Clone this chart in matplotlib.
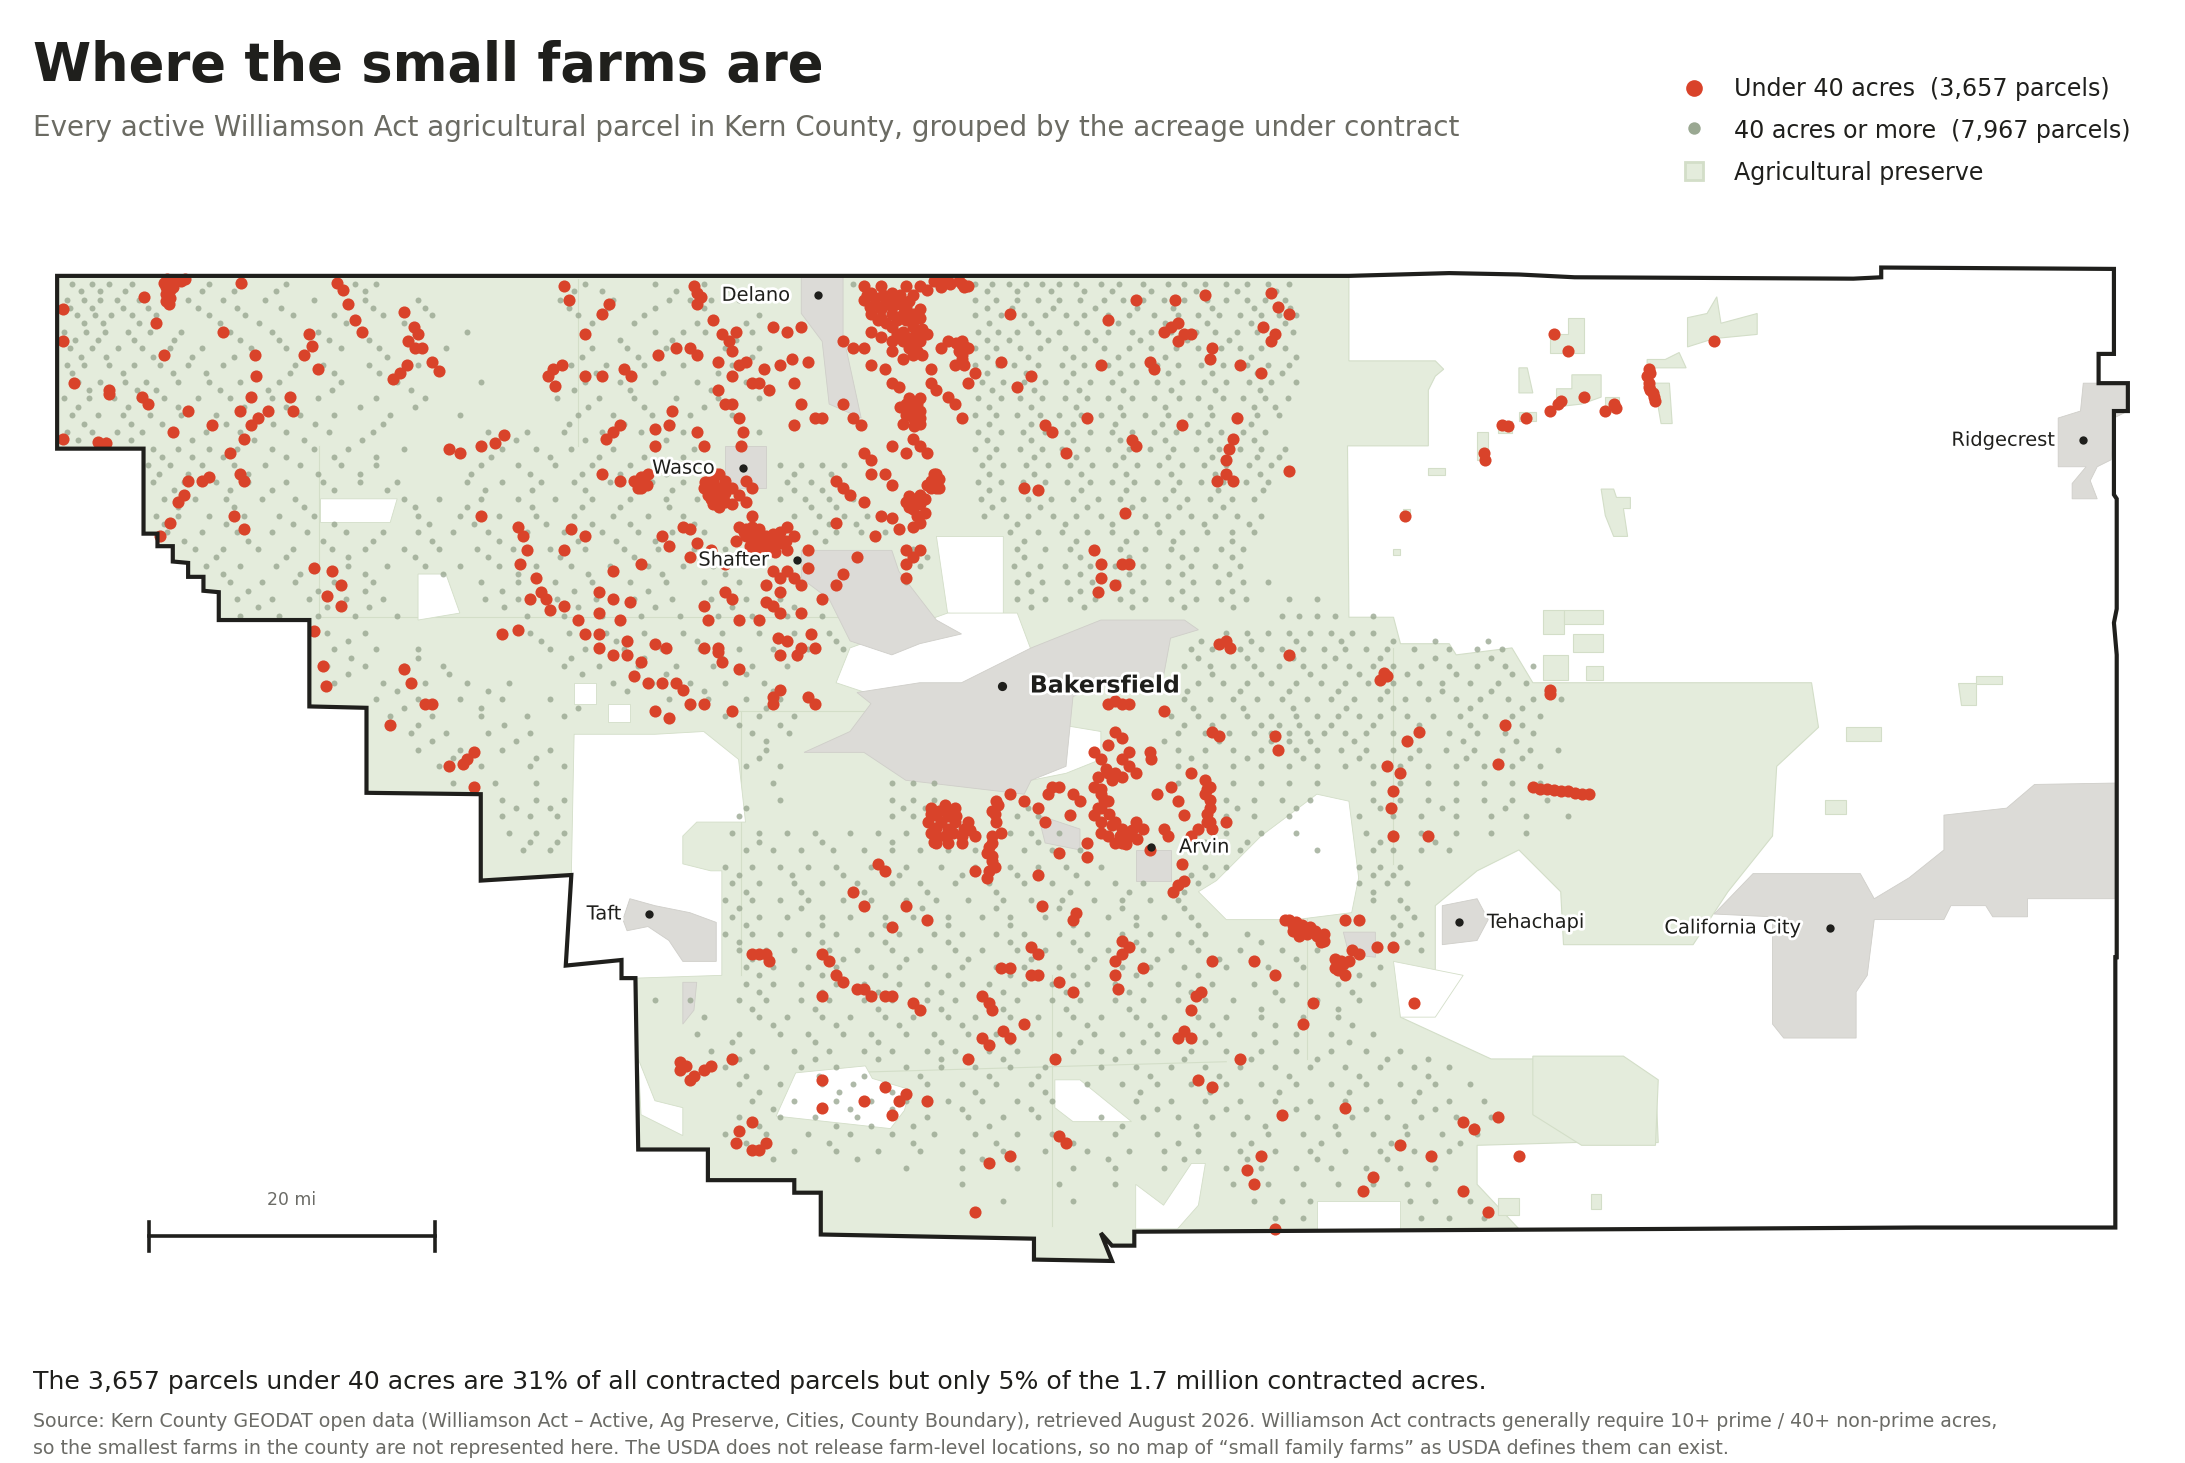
import numpy as np
import matplotlib
matplotlib.use('Agg')
import matplotlib.pyplot as plt
import matplotlib.patheffects as pe
from matplotlib.patches import Polygon

# ----------------------------------------------------------------
# Map data (x, y in map units)
# ----------------------------------------------------------------
county = [(41,198),(290,198),(580,198),(968,198),(1040,196),(1090,197),(1130,199),(1330,200),(1350,199),(1350,192),
  (1517,193),(1517,254),(1506,254),(1506,275),(1527,275),(1527,295),(1517,295),(1517,355),(1519,358),(1519,437),
  (1517,447),(1519,470),(1519,687),(1518,687),(1518,881),(1500,881),(1375,881),(1200,882),(814,884),(814,894),
  (798,894),(790,885),(798,905),(742,904),(742,889),(589,886),(589,856),(570,856),(570,847),(508,847),(508,825),
  (458,825),(456,702),(446,702),(446,689),(406,693),(410,628),(345,632),(345,570),(263,569),(263,508),(222,507),
  (222,445),(157,445),(157,425),(146,424),(146,414),(135,414),(135,404),(124,403),(124,392),(113,392),(113,383),
  (103,383),(103,322),(41,322)]

preserve_main = [(41,198),(968,198),(968,259),(1030,259),(1036,265),(1030,270),(1025,280),(1025,320),(967,320),
  (968,443),(1000,443),(1005,462),(1040,462),(1045,470),(1085,465),(1100,490),(1300,490),(1305,522),(1275,550),
  (1272,600),(1240,640),(1215,678),(1122,678),(1120,640),(1090,610),(1060,625),(1030,650),(1030,700),(1005,715),
  (1005,730),(1070,760),(1165,760),(1170,770),(1188,775),(1190,820),(1130,820),(1060,822),(1060,850),(1090,882),
  (814,884),(814,894),(798,894),(790,885),(798,905),(742,904),(742,889),(589,886),(589,856),(570,856),(570,847),
  (508,847),(508,825),(458,825),(456,702),(446,702),(446,689),(406,693),(410,628),(345,632),(345,570),(263,569),
  (263,508),(222,507),(222,445),(157,445),(157,425),(146,424),(146,414),(135,414),(135,404),(124,403),(124,392),
  (113,392),(113,383),(103,383),(103,322),(41,322)]

preserve_bits = [
  [(1112,240),(1125,240),(1125,228),(1137,228),(1137,253),(1112,253)],
  [(1211,228),(1225,225),(1232,213),(1235,232),(1261,225),(1261,240),(1230,243),(1211,249)],
  [(1090,264),(1096,264),(1100,282),(1090,282)],
  [(1128,269),(1149,269),(1149,285),(1135,290),(1117,292),(1117,279),(1128,279)],
  [(1182,258),(1195,258),(1205,253),(1210,264),(1182,264)],
  [(1187,275),(1198,275),(1200,304),(1192,304)],
  [(1152,285),(1162,285),(1162,296),(1152,296)],
  [(1060,310),(1068,310),(1068,330),(1060,330)],
  [(1075,302),(1085,302),(1085,311),(1075,311)],
  [(1090,296),(1102,296),(1102,302),(1090,302)],
  [(1149,351),(1158,351),(1160,357),(1170,357),(1170,365),(1165,365),(1168,385),(1158,385),(1152,370)],
  [(1025,336),(1037,336),(1037,341),(1025,341)],
  [(1007,365),(1012,365),(1012,372),(1007,372)],
  [(1000,394),(1005,394),(1005,398),(1000,398)],
  [(1107,438),(1122,438),(1122,455),(1107,455)],
  [(1122,438),(1150,438),(1150,448),(1122,448)],
  [(1129,455),(1150,455),(1150,468),(1129,468)],
  [(1107,470),(1125,470),(1125,488),(1107,488)],
  [(1138,478),(1150,478),(1150,488),(1138,488)],
  [(1405,490),(1418,490),(1418,485),(1437,485),(1437,491),(1418,491),(1418,506),(1407,506)],
  [(1325,522),(1350,522),(1350,532),(1325,532)],
  [(1310,574),(1325,574),(1325,584),(1310,584)],
  [(1100,758),(1165,758),(1190,775),(1188,822),(1135,822),(1100,800)],
  [(1142,857),(1149,857),(1149,868),(1142,868)],
  [(1075,860),(1090,860),(1090,872),(1075,872)],
]

preserve_gaps = [
  [(412,527),(470,527),(505,525),(530,545),(535,590),(500,590),(490,600),(490,620),(510,625),(518,625),
   (518,700),(456,702),(446,702),(446,689),(406,693),(410,628)],
  [(412,490),(428,490),(428,505),(412,505)],
  [(436,505),(452,505),(452,518),(436,518)],
  [(230,358),(285,358),(280,375),(230,375)],
  [(300,412),(320,412),(330,440),(300,445)],
  [(672,385),(720,385),(720,445),(680,440)],
  [(610,465),(680,440),(730,440),(760,520),(790,525),(790,545),(765,555),(740,560),(630,500),(600,490)],
  [(873,632),(905,600),(945,570),(968,575),(975,630),(970,655),(930,660),(880,660),(860,640)],
  [(757,775),(775,775),(812,805),(770,805),(757,795)],
  [(815,850),(835,865),(855,835),(865,835),(860,865),(845,882),(815,882)],
  [(945,882),(945,862),(1005,862),(1005,882)],
  [(571,770),(621,765),(626,774),(653,782),(649,797),(639,810),(557,801)],
  [(458,760),(460,800),(490,815),(490,795),(470,790)],
  [(1000,690),(1050,700),(1030,730),(1005,730)],
]

preserve_lines = [[(230,443),(680,443)],[(229,320),(229,443)],[(530,510),(730,510)],[(532,510),(532,700)],
  [(600,770),(880,762)],[(755,700),(755,880)],[(1000,465),(1000,620)],[(938,640),(938,760)],[(415,200),(415,320)]]

city_shapes = [
  [(577,540),(610,525),(625,505),(615,497),(660,490),(690,490),(710,480),(740,465),(790,445),(850,445),(860,452),
   (840,458),(835,485),(790,490),(770,500),(765,550),(740,560),(735,570),(650,560),(620,540)],
  [(575,395),(640,395),(645,410),(672,445),(690,455),(660,462),(640,470),(610,460),(595,430),(575,415)],
  [(575,198),(605,198),(605,240),(618,300),(595,290),(590,245),(575,225)],
  [(520,320),(550,320),(550,350),(520,350)],
  [(1495,275),(1527,275),(1527,295),(1517,300),(1515,330),(1505,335),(1500,345),(1505,358),(1487,358),(1487,347),
   (1497,335),(1477,335),(1477,300),(1493,295)],
  [(1258,627),(1335,627),(1345,645),(1370,630),(1395,610),(1395,585),(1440,580),(1460,563),(1518,562),(1518,645),
   (1455,645),(1455,658),(1430,658),(1425,650),(1400,650),(1395,660),(1345,660),(1340,700),(1332,712),(1332,745),
   (1280,745),(1272,735),(1272,658),(1230,656)],
  [(1035,650),(1060,645),(1068,660),(1060,675),(1035,678)],
  [(447,660),(452,645),(470,650),(495,655),(514,662),(514,690),(490,690),(480,675),(465,665),(450,668)],
  [(815,610),(840,610),(840,632),(815,632)],
  [(745,585),(775,595),(775,610),(750,605)],
  [(490,705),(500,705),(498,725),(490,735)],
  [(964,669),(987,669),(987,687),(968,685)],
]

# rows of 40+ acre parcels: y, then the x positions on that row
big_rows = [
  (204,[52,66,78,95,150,175,205,255,270,420,470,505,612,700,712,724,736,748,760,772,790,803,820,838,850,865,880,895,910,925]),
  (215,[48,60,72,84,100,135,160,190,225,262,300,402,440,480,495,510,530,700,715,730,745,760,775,792,806,820,835,850,866,880,895,908,922]),
  (226,[55,68,80,95,112,150,176,210,240,275,310,415,430,462,545,700,718,735,750,765,778,795,810,828,845,860,875,890,905,918,930]),
  (238,[46,62,75,92,108,130,165,195,228,258,335,470,490,506,540,702,716,730,745,760,780,795,812,826,840,858,872,888,902,916,928]),
  (250,[50,66,85,102,122,145,180,205,245,272,320,425,450,478,520,545,700,715,732,746,764,778,792,810,826,844,860,876,890,905,922]),
  (262,[48,60,78,96,115,135,160,212,232,265,300,410,435,462,490,525,700,716,728,745,762,778,795,812,830,845,862,878,895,910,925]),
  (274,[56,72,90,105,128,150,172,200,245,285,345,420,445,470,500,535,705,720,735,750,765,782,798,815,830,848,864,880,896,912,930]),
  (286,[46,64,82,100,118,142,165,195,228,270,305,400,430,455,485,515,545,702,718,732,748,764,780,795,812,828,846,860,878,892,908,924]),
  (298,[52,70,88,108,130,155,185,215,240,280,330,415,440,468,495,525,700,715,730,746,760,776,790,806,822,838,854,870,888,902,918]),
  (310,[48,66,84,102,125,148,172,205,236,268,350,378,405,432,460,490,545,702,718,734,750,766,782,798,812,828,844,860,876,892,908]),
  (322,[110,128,150,170,195,225,250,290,360,385,410,440,470,498,700,715,732,748,762,780,795,810,825,842,858,875,890,905,922]),
  (334,[106,122,145,168,190,215,245,270,345,372,398,425,452,480,560,575,590,606,705,720,736,752,768,784,800,816,832,848,864,880,896,912]),
  (346,[110,132,155,178,205,232,258,285,335,360,388,412,438,468,490,565,582,600,702,718,734,750,766,782,798,814,830,846,862,878,894,910]),
  (358,[118,140,162,188,212,290,315,345,372,398,425,452,478,500,560,578,595,612,704,720,738,754,770,788,804,820,836,852,868,884,900]),
  (370,[112,128,150,175,200,225,300,330,358,385,412,440,465,490,570,588,606,622,706,722,738,756,772,790,806,822,838,855,872,888,905]),
  (382,[120,145,170,195,220,248,275,300,325,350,378,405,432,458,482,505,585,600,618,635,725,745,762,780,798,815,832,848,866,884,900]),
  (394,[140,160,185,210,238,262,290,315,342,368,395,420,448,472,498,520,655,730,750,768,786,804,822,840,858,876,892]),
  (406,[148,172,198,225,250,278,305,330,358,385,410,438,465,490,512,660,728,746,764,782,800,820,838,855,872,890]),
  (418,[165,188,212,240,268,345,372,398,425,452,478,505,530,650,730,748,766,784,802,820,838,856,874,892,910]),
  (430,[170,195,222,248,275,348,372,400,428,455,482,510,535,560,730,750,768,786,804,822,840,858,876,894,925,945]),
  (442,[172,200,228,255,285,378,405,432,460,488,515,540,565,590,920,932,945,958,985]),
  (454,[235,262,380,408,435,462,490,518,545,570,595,880,895,910,925,940,955,970,985]),
  (466,[240,270,300,395,420,448,475,502,530,555,580,605,855,870,890,905,920,935,950,965,980,995,1015,1040,1060,1078]),
  (478,[235,262,290,318,405,430,458,485,512,540,565,850,868,885,900,918,935,950,968,985,1000,1020,1040,1060,1080,1100]),
  (490,[240,275,305,335,365,440,468,495,520,548,860,878,895,912,930,948,965,982,1000,1018,1035,1055,1075,1095]),
  (502,[270,300,330,360,395,480,508,535,560,850,868,885,902,920,938,955,972,990,1008,1025,1045,1062,1082,1100,1120]),
  (514,[280,310,345,378,405,520,545,570,840,860,878,895,912,930,945,960,975,990,1010,1028,1048,1066,1085,1105]),
  (526,[295,320,350,380,540,566,845,865,882,900,912,925,938,950,965,980,1000,1020,1040,1060,1080,1100]),
  (538,[300,330,360,395,550,825,845,865,885,905,918,930,945,962,980,1000,1018,1038,1058,1078,1098,1118]),
  (550,[315,345,380,405,535,560,845,865,885,905,925,945,965,985,1005,1025,1045,1065,1085,1105]),
  (562,[325,355,385,555,640,655,670,845,865,885,905,925,945,985,1005,1025,1045,1065,1085,1105]),
  (574,[360,385,405,560,640,655,670,735,880,900,920,940,985,1005,1025,1045,1065,1085,1110]),
  (586,[360,380,400,530,640,655,670,730,745,880,900,925,975,1000,1020,1045,1070,1095,1125]),
  (598,[365,385,405,525,545,565,585,610,630,650,725,740,760,860,880,905,930,980,1000,1020,1045,1070,1095]),
  (610,[375,395,535,555,575,598,620,640,660,680,700,735,755,775,855,870,890,945,985,1000,1020,1040]),
  (622,[520,540,560,580,600,625,650,675,700,725,745,765,790,850,865,880,975,990,1005]),
  (634,[525,545,570,590,615,640,660,685,710,735,755,780,800,820,845,860,975,995,1010]),
  (646,[520,540,560,580,605,625,650,672,695,720,740,762,785,805,825,845,985,1005]),
  (658,[525,545,565,590,610,635,655,680,705,725,750,770,795,815,835,855,1000,1015]),
  (670,[520,540,560,580,600,625,645,670,690,715,735,760,780,805,825,845,865,895,1000,1020]),
  (682,[530,550,570,595,615,640,660,685,705,730,750,775,795,820,840,860,890,920,945,1020]),
  (694,[535,555,580,600,625,645,670,690,715,735,760,780,805,825,850,880,910,935,965,990]),
  (706,[535,555,575,600,620,645,665,690,710,735,755,780,800,825,845,870,900,930,960,985]),
  (718,[470,495,530,550,575,595,620,640,665,685,710,730,755,775,800,820,845,865,885,920,945,975]),
  (730,[505,545,565,590,610,635,655,680,700,725,745,770,790,815,835,860,880,905,935,960]),
  (742,[500,530,560,580,605,625,650,670,695,715,740,760,785,805,830,850,875,900,930,955,985]),
  (754,[510,540,570,595,620,640,665,685,710,730,770,790,810,830,855,880,905,930,955,980,1005]),
  (766,[520,550,575,600,650,675,700,725,750,790,815,840,865,890,915,940,965,990,1015,1040]),
  (778,[530,560,590,612,635,665,690,715,740,780,805,830,855,880,905,930,955,980,1005,1030,1055]),
  (790,[540,570,600,625,650,680,705,730,755,815,840,865,890,915,940,965,990,1015,1040,1065]),
  (802,[530,560,585,615,640,665,695,720,745,790,820,845,870,895,920,945,970,995,1020,1045,1070]),
  (814,[520,550,580,610,640,670,700,730,755,800,830,860,885,910,935,960,985,1010,1035,1060]),
  (826,[540,570,600,630,660,690,720,750,780,810,835,860,890,915,940,965,990,1015,1040]),
  (838,[650,690,730,770,800,835,880,905,930,955,980,1005,1030]),
  (850,[690,760,800,885,910,935,960,985,1010,1025]),
  (862,[720,770,900,920,940,1012,1030,1055]),
  (874,[915,935,1020,1040,1065]),
]

# second pass of the same parcels, in between the rows above
big_rows_b = [
  (209,[58,72,90,145,168,198,262,412,432,485,520,708,730,754,778,798,826,858,888,916]),
  (221,[50,66,88,106,142,170,202,268,305,408,436,470,505,708,726,756,786,816,842,870,900,926]),
  (232,[60,74,100,158,186,248,290,425,455,500,535,710,740,772,802,836,866,898,922]),
  (244,[54,70,96,125,172,200,236,265,445,482,528,708,724,752,786,818,852,882,912]),
  (256,[58,76,110,138,168,218,278,418,458,500,540,708,738,770,802,836,868,898,930]),
  (268,[52,88,124,148,208,240,272,428,476,515,708,736,770,804,838,870,902,920]),
  (280,[64,98,112,158,192,238,295,412,452,510,712,742,774,806,840,872,904]),
  (292,[56,92,128,175,205,258,298,422,462,505,710,740,772,804,836,868,900,915]),
  (304,[60,94,116,162,196,226,275,408,448,482,710,740,770,800,834,866,898]),
  (316,[56,76,94,138,182,218,260,370,420,478,708,740,770,804,836,868,900]),
  (328,[116,138,160,205,240,270,352,395,430,462,490,710,742,772,806,838,870,902,918]),
  (340,[114,135,178,228,258,338,380,418,445,478,570,596,710,742,776,808,840,872,904]),
  (352,[125,165,195,240,278,348,382,420,458,482,570,590,710,744,776,808,842,874,906]),
  (364,[128,168,218,298,335,382,418,445,480,582,600,712,746,780,812,846,878]),
  (376,[118,162,210,240,308,340,392,425,452,498,595,614,730,764,798,830,864,896]),
  (388,[132,178,232,268,310,358,415,442,470,592,735,772,808,842,884]),
  (400,[155,205,250,298,350,402,455,505,665,735,775,810,848,884]),
  (412,[160,215,262,318,372,422,475,520,738,775,810,848,882]),
  (424,[178,228,262,360,412,465,518,740,775,812,848,884]),
  (436,[185,235,265,362,415,470,525,570,740,778,812,850,885]),
  (460,[250,388,442,500,558,600,862,898,930,962,1000,1030,1068]),
  (472,[252,300,410,462,518,572,860,895,928,958,990,1030,1070]),
  (484,[250,322,418,478,535,870,905,940,975,1010,1045,1085]),
  (496,[285,350,450,505,555,852,890,925,960,995,1035,1070,1110]),
  (508,[290,345,415,495,550,856,892,928,966,1000,1055,1092]),
  (520,[300,362,530,560,850,870,905,918,932,955,985,1018,1055,1092]),
  (532,[310,370,550,835,875,912,925,940,972,1010,1050,1088]),
  (544,[325,385,545,855,895,935,975,1012,1052,1092]),
  (580,[370,395,535,648,664,738,888,930,990,1035,1080]),
  (604,[380,400,545,590,640,690,745,865,895,990,1030]),
  (628,[530,568,605,645,690,730,772,855,870,985,1000]),
  (640,[535,575,620,665,715,768,810,850,985]),
  (652,[530,575,620,662,715,760,805,850,1010]),
  (664,[535,590,635,680,725,770,815,860,1005]),
  (676,[530,590,635,680,725,770,815,855,905,1010]),
  (688,[540,605,650,695,740,785,830,875,930]),
  (700,[545,590,635,680,725,770,815,860,915,975]),
  (712,[545,590,630,675,720,765,810,855,915,970]),
  (724,[540,585,630,675,720,765,810,855,905,960]),
  (736,[555,600,645,690,735,780,825,870,915,970]),
  (748,[525,585,630,675,725,775,820,865,915,968]),
  (760,[530,585,630,675,720,800,850,898,945,995,1025]),
  (772,[535,588,620,660,710,745,825,875,925,975,1025]),
  (784,[545,602,640,700,750,818,868,918,968,1018]),
  (796,[555,610,640,690,740,830,880,930,980,1030]),
  (808,[545,600,625,655,710,805,858,908,958,1008,1058]),
  (820,[535,595,655,715,770,845,898,948,998,1048]),
  (832,[555,615,705,795,850,895,945,995,1028]),
]

small_parcels = [(120,200),(126,202),(133,200),(119,206),(124,206),(119,211),(119,216),(121,218),(173,203),(103,213),
  (242,203),(246,208),(250,218),(255,230),(260,238),(290,224),(297,235),(300,240),(293,245),(303,250),(292,262),
  (310,260),(315,266),(287,268),(282,272),(298,250),(112,232),(160,238),(183,255),(222,240),(224,248),(184,270),
  (180,285),(172,295),(218,255),(228,265),(185,300),(208,285),(210,295),(118,255),(76,318),(70,317),(45,222),(45,245),
  (45,315),(53,275),(78,280),(78,283),(102,285),(106,290),(124,310),(135,295),(152,305),(180,305),(175,315),(192,295),
  (135,345),(132,355),(128,360),(145,345),(172,340),(175,345),(168,370),(175,380),(122,375),(115,385),(165,325),(150,342),
  (238,410),(245,420),(225,408),(235,428),(245,435),(225,453),(232,478),(234,492),(290,480),(295,490),(305,505),(310,505),
  (280,520),(322,550),(332,548),(340,540),(335,545),(340,565),(360,455),(372,452),(388,425),(392,430),(380,430),(345,370),
  (322,322),(330,325),(345,320),(355,318),(362,312),(372,378),(375,385),(378,395),(373,405),(385,415),(395,438),
  (420,455),(430,465),(440,470),(450,470),(460,475),(455,485),(465,490),(475,490),(485,490),(490,495),(495,505),(505,505),
  (470,510),(480,515),(450,460),(470,462),(478,465),(505,465),(515,468),(530,480),(555,500),(525,510),(560,495),
  (405,435),(415,445),(430,455),(445,445),(430,425),(430,440),(440,430),(452,432),(410,380),(420,385),(405,395),(440,410),
  (460,405),(475,385),(480,392),(495,400),(455,345),(460,342),(460,350),(445,345),(432,340),(435,315),(440,310),(445,305),
  (405,205),(408,215),(432,225),(437,218),(420,240),(403,262),(397,265),(393,270),(398,277),(420,270),(432,270),(453,270),
  (448,265),(472,255),(485,250),(495,250),(500,255),(512,230),(518,240),(523,245),(525,252),(515,260),(525,270),(530,262),
  (535,260),(555,235),(565,238),(575,235),(580,260),(568,258),(560,262),(570,275),(575,290),(585,300),(590,300),(570,305),
  (498,205),(500,210),(503,213),(500,218),(528,238),(515,280),(540,275),(545,275),(552,280),(548,265),(520,290),
  (470,308),(480,305),(470,320),(465,340),(475,335),(482,295),(500,310),(505,320),(525,290),(530,300),(533,310),(532,320),
  (510,340),(512,345),(516,340),(510,350),(515,350),(520,345),(512,355),(516,358),(520,360),(512,362),(508,355),(505,350),
  (525,350),(530,355),(535,345),(540,350),(535,360),(525,362),(540,370),
  (530,378),(535,380),(540,378),(545,380),(535,385),(540,388),(545,388),(550,385),(528,388),(555,383),(560,382),(565,378),
  (555,392),(560,390),(548,395),(540,392),(570,385),(580,395),(565,395),(495,380),(500,390),(490,378),(510,395),(520,405),
  (555,410),(560,415),(565,410),(550,420),(560,425),(570,415),(575,420),(580,408),(555,435),(560,440),(550,432),(545,445),
  (558,458),(565,460),(575,465),(585,465),(572,470),(582,455),(560,470),(575,440),(590,430),(600,420),(605,412),
  (525,430),(520,425),(515,465),(518,475),(530,445),(508,445),(505,435),(580,500),(585,505),(555,505),
  (620,205),(625,210),(632,205),(640,210),(620,215),(628,218),(635,218),(642,215),(650,205),(655,212),(660,205),(650,220),
  (625,225),(632,228),(640,225),(648,225),(655,225),(660,222),(665,208),(670,202),(680,202),(690,204),(675,206),(695,205),
  (640,235),(648,238),(655,235),(660,238),(648,245),(655,248),(640,245),(632,242),(625,238),(660,245),(665,240),(655,255),
  (648,258),(640,252),(662,255),(668,265),(690,245),(690,255),(685,262),(692,262),(695,250),(680,245),(675,250),(635,265),
  (620,250),(612,250),(605,245),(625,262),(605,290),(612,300),(618,305),(640,275),(645,278),(650,290),(655,292),(660,295),
  (650,298),(655,300),(660,300),(668,275),(672,280),(680,285),(685,290),(690,300),(700,268),(695,275),(660,320),(665,325),
  (655,315),(650,325),(620,325),(625,330),(640,320),(635,340),(640,348),(655,358),(660,355),(650,360),(660,362),(655,365),
  (672,340),(668,345),(672,350),(665,348),(660,375),(655,378),(655,400),(660,395),(650,395),(645,380),(640,372),(625,340),
  (620,360),(610,355),(605,350),(600,345),(632,370),(628,385),(600,375),(615,400),(650,415),(650,405),
  (735,350),(745,352),(750,305),(755,310),(765,325),(740,270),(725,225),(730,278),(718,260),(780,300),(812,316),(815,320),
  (790,262),(850,240),(840,235),(845,232),(845,245),(855,240),(835,238),(825,260),(828,265),(815,215),(795,230),(848,305),
  (880,340),(885,345),(873,345),(880,330),(882,322),(885,315),(925,338),(843,215),(865,212),(912,210),(906,235),(912,245),
  (917,220),(925,225),(905,268),(915,240),(870,250),(868,258),(890,262),(888,300),(807,368),(785,395),(790,405),(805,405),
  (810,405),(790,415),(788,425),(800,420),(880,460),(883,465),(875,462),(925,470),(880,590),(990,488),(995,485),(993,483),
  (1065,325),(1066,330),(1078,305),(1082,306),(1095,300),(1112,295),(1118,290),(1120,288),(1137,285),(1158,290),(1160,293),
  (1152,295),(1183,265),(1182,270),(1183,275),(1184,280),(1187,285),(1188,288),(1115,240),(1230,245),(1125,252),
  (1100,565),(1105,566),(1110,566),(1115,567),(1120,568),(1125,568),(1130,569),(1135,570),(1140,570),(1112,495),(1112,498),
  (1008,370),(1018,525),(1005,555),(1000,568),(1080,520),(1075,548),(1010,532),(995,550),(998,580),(1000,600),(1025,600),
  (805,505),(795,505),(800,503),(810,505),(870,525),(875,528),(915,528),(917,538),(855,555),(835,510),(825,540),(826,545),
  (800,525),(805,530),(810,540),(805,545),(795,535),(790,545),(785,540),(810,550),(815,555),(805,558),(800,555),(795,555),
  (788,558),(785,565),(790,570),(795,575),(790,580),(785,585),(790,590),(800,590),(805,595),(795,600),(790,598),(805,605),
  (800,605),(810,600),(815,590),(820,595),(825,610),(830,570),(840,565),(845,575),(850,585),(865,560),(868,565),(865,570),
  (868,580),(866,590),(870,595),(860,595),(855,600),(835,595),(838,600),(848,620),(850,632),(845,635),(842,640),
  (668,580),(672,585),(678,578),(682,582),(685,580),(675,590),(680,595),(672,600),(668,598),(685,590),(692,595),(690,605),
  (695,590),(700,600),(680,605),(672,605),(715,575),(712,582),(715,590),(718,598),(712,605),(708,612),(712,618),(710,625),
  (708,630),(725,570),(735,575),(752,570),(755,565),(760,565),(750,590),(745,580),(770,570),(775,575),
  (768,585),(760,612),(780,605),(780,615),(745,628),(748,650),(772,655),(770,660),(740,680),(745,685),(718,695),
  (630,620),(635,625),(620,650),(640,665),(650,650),(665,660),(700,625),(612,640),(590,685),(595,690),(545,685),(550,685),
  (540,685),(552,690),(605,705),(615,710),(620,710),(625,715),(635,715),(640,715),(655,720),(660,725),(600,700),(590,715),
  (705,715),(710,720),(712,725),(720,740),(725,745),(735,735),(705,745),(710,750),(725,695),(740,700),(760,705),(770,712),
  (800,690),(805,685),(810,680),(805,675),(800,700),(802,710),(820,695),(858,715),(855,725),(850,740),(855,745),(845,745),
  (862,712),(870,690),(900,690),(915,700),(935,735),(942,720),(962,690),(958,695),(965,700),(975,685),(970,682),(925,660),
  (930,662),(935,668),(945,672),(950,675),(928,668),(940,665),(965,660),(975,660),(988,680),(1000,680),(1015,720),(905,830),
  (895,840),(900,850),(915,882),(860,775),(870,780),(890,760),(920,800),(965,795),(1050,805),(1058,810),(1027,830),(1075,802),
  (1090,830),(985,845),(978,855),(1050,855),(1005,822),(1068,870),(488,762),(488,768),(492,765),(498,772),(505,768),(495,775),
  (510,765),(525,760),(530,812),(540,805),(545,825),(550,820),(528,820),(540,825),(620,790),(590,795),(590,775),(640,800),
  (645,790),(635,780),(695,760),(700,870),(725,830),(760,815),(765,820),(710,835),(757,760),(745,700),(665,790),(650,785)]

# the solid red blocks, where small parcels sit edge to edge
block_parcels = [(622,212),(628,214),(634,212),(640,214),(646,212),(624,220),(632,222),(640,220),(646,218),(652,216),
  (630,230),(636,232),(644,230),(650,230),(656,230),(660,228),(644,240),(650,242),(656,242),(662,236),(652,250),(658,252),
  (676,202),(682,204),(688,202),(692,206),(686,246),(692,248),(688,252),(690,258),(646,292),(652,296),(658,290),(648,304),
  (656,306),(660,304),(652,286),(660,286),(670,340),(674,344),(668,350),(674,350),(652,356),(658,358),(664,358),(652,364),
  (658,370),(664,368),(512,346),(514,352),(510,358),(518,352),(516,364),(520,354),(506,346),(514,340),
  (534,382),(540,384),(546,384),(552,388),(558,386),(538,392),(544,394),(550,392),(556,396),(564,388),
  (668,584),(674,582),(680,586),(686,586),(666,590),(672,594),(678,600),(684,598),(690,600),(696,596),(670,604),
  (712,600),(710,608),(712,614),(714,622),(716,578),(714,584),
  (794,552),(798,560),(790,566),(792,574),(788,580),(796,584),(798,592),(804,600),(808,606),(812,596),(816,602),
  (866,566),(868,574),(866,584),(868,590),(922,660),(928,664),(934,664),(938,670),(944,668),(950,670),(932,672),(948,676),
  (958,688),(964,692),(960,696),(968,690),(1184,268),(1183,278),(1186,282),
  (120,201),(122,208),(118,203),(122,214),(125,201),(130,202),
  (460,344),(464,348),(458,350),(462,342)]

city_names = ['Delano', 'Wasco', 'Shafter', 'Ridgecrest', 'Arvin', 'Taft', 'Tehachapi', 'California City']
city_x = [587, 533, 572, 1495, 826, 466, 1047, 1313]
city_y = [212, 336, 402, 316, 608, 656, 662, 666]
city_side = ['left', 'left', 'left', 'left', 'right', 'left', 'right', 'left']

color_red = '#d9432a'
color_green = '#9aa892'
color_preserve = '#e4ecdc'
color_preserve_edge = '#d3dec8'
color_city = '#dcdbd7'
color_ink = '#1f1f1c'

big_x = [x for y, xs in big_rows + big_rows_b for x in xs]
big_y = [y for y, xs in big_rows + big_rows_b for x in xs]
small_x = [p[0] for p in small_parcels + block_parcels]
small_y = [p[1] for p in small_parcels + block_parcels]

# Figure spans the whole canvas, one map unit is one reference display pixel
fig = plt.figure(figsize=(10.925, 7.315), dpi=200)
axx = fig.add_axes([0, 0, 1, 1])
axx.set_xlim(0, 1568)
axx.set_ylim(1050, 0)
axx.axis('off')

# Preserves, then the holes in them
axx.add_patch(Polygon(preserve_main, fc=color_preserve, ec=color_preserve_edge, lw=0.4, zorder=1))
for shape in preserve_bits:
  axx.add_patch(Polygon(shape, fc=color_preserve, ec=color_preserve_edge, lw=0.4, zorder=1))
for shape in preserve_lines:
  axx.plot([p[0] for p in shape], [p[1] for p in shape], color=color_preserve_edge, lw=0.4, zorder=1.5)
for shape in preserve_gaps:
  axx.add_patch(Polygon(shape, fc='white', ec=color_preserve_edge, lw=0.3, zorder=2))

# Cities
for shape in city_shapes:
  axx.add_patch(Polygon(shape, fc=color_city, ec='#cfcec9', lw=0.3, zorder=3))

# Parcels
axx.scatter(big_x, big_y, s=4.6, color=color_green, alpha=0.8, linewidths=0, zorder=4)
axx.scatter(small_x, small_y, s=19, color=color_red, linewidths=0, zorder=5)

# County outline
axx.add_patch(Polygon(county, fc='none', ec=color_ink, lw=1.5, joinstyle='miter', zorder=6))

# City markers and labels
halo = [pe.withStroke(linewidth=2, foreground='white')]
for name, x, y, side in zip(city_names, city_x, city_y, city_side):
  axx.scatter([x], [y], s=9, color=color_ink, linewidths=0, zorder=7)
  dx = 20 if side == 'right' else -20
  ha = 'left' if side == 'right' else 'right'
  axx.text(x + dx, y, name, fontsize=7.0, color=color_ink, ha=ha, va='center', zorder=8, path_effects=halo)
axx.scatter([719], [492], s=11, color=color_ink, linewidths=0, zorder=7)
axx.text(739, 492, 'Bakersfield', fontsize=8.5, fontweight='bold', color=color_ink, ha='left', va='center',
         zorder=8, path_effects=halo)

# Scale bar
axx.plot([107, 312], [887, 887], color=color_ink, lw=1.3, zorder=7)
axx.plot([107, 107], [877, 898], color=color_ink, lw=1.3, zorder=7)
axx.plot([312, 312], [877, 898], color=color_ink, lw=1.3, zorder=7)
axx.text(209.5, 861.5, '20 mi', fontsize=6.2, color='#6b6b66', ha='center', va='center')

# Titles
axx.text(23.5, 47.5, 'Where the small farms are', fontsize=19, fontweight='bold', color=color_ink, va='center')
axx.text(23.5, 92, 'Every active Williamson Act agricultural parcel in Kern County, grouped by the acreage under contract',
         fontsize=10, color='#6b6b63', va='center')

# Legend
axx.scatter([1215.5], [63], s=36, color=color_red, linewidths=0)
axx.scatter([1215.5], [92], s=20, color=color_green, linewidths=0)
axx.add_patch(Polygon([(1209,116),(1222,116),(1222,129),(1209,129)], fc=color_preserve, ec=color_preserve_edge, lw=1))
axx.text(1244, 64, 'Under 40 acres  (3,657 parcels)', fontsize=8.55, color=color_ink, va='center')
axx.text(1244, 94, '40 acres or more  (7,967 parcels)', fontsize=8.55, color=color_ink, va='center')
axx.text(1244, 124, 'Agricultural preserve', fontsize=8.55, color=color_ink, va='center')

# Footer
axx.text(23.5, 992, 'The 3,657 parcels under 40 acres are 31% of all contracted parcels but only 5% of the 1.7 million contracted acres.',
         fontsize=9.07, color=color_ink, va='center')
axx.text(23.5, 1020.5, 'Source: Kern County GEODAT open data (Williamson Act \u2013 Active, Ag Preserve, Cities, County Boundary), retrieved August 2026. Williamson Act contracts generally require 10+ prime / 40+ non-prime acres,',
         fontsize=6.85, color='#6b6b66', va='center')
axx.text(23.5, 1039.5, 'so the smallest farms in the county are not represented here. The USDA does not release farm-level locations, so no map of \u201csmall family farms\u201d as USDA defines them can exist.',
         fontsize=6.85, color='#6b6b66', va='center')

fig.savefig('out.png', dpi=200, facecolor='white')
plt.close('all')
